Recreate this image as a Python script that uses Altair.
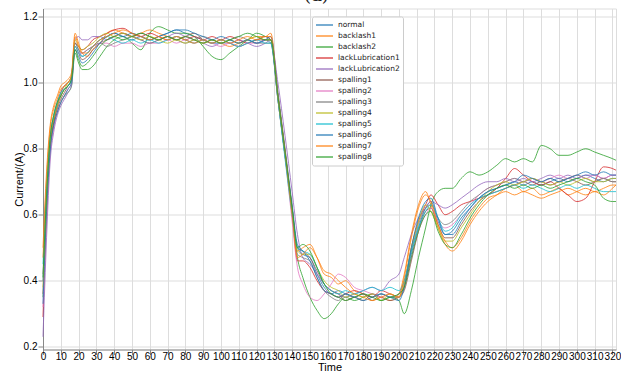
import altair as alt
import pandas as pd

time = [0, 2, 4, 6, 8, 10, 12, 14, 16, 18, 20, 22, 25, 28, 32, 36, 40, 45, 50, 55,
        60, 65, 70, 75, 80, 85, 90, 95, 100, 105, 110, 115, 120, 125, 128, 132, 136, 140, 143, 146,
        150, 154, 158, 162, 166, 170, 175, 180, 185, 190, 195, 200, 203, 207, 211, 215, 218, 222, 226, 230,
        235, 240, 245, 250, 255, 260, 265, 270, 275, 280, 285, 290, 295, 300, 305, 310, 315, 320, 322]

series_names = ["normal", "backlash1", "backlash2", "lackLubrication1", "lackLubrication2",
                "spalling1", "spalling2", "spalling3", "spalling4", "spalling5",
                "spalling6", "spalling7", "spalling8"]

colors = ["#1f77b4", "#ff7f0e", "#2ca02c", "#d62728", "#9467bd", "#8c564b", "#e377c2",
          "#7f7f7f", "#bcbd22", "#17becf", "#1f77b4", "#ff7f0e", "#2ca02c"]

normal = [0.40, 0.66, 0.82, 0.89, 0.93, 0.96, 0.98, 0.99, 1.01, 1.12, 1.10, 1.08, 1.09, 1.11, 1.13, 1.14, 1.15, 1.14, 1.13, 1.14,
          1.13, 1.14, 1.15, 1.16, 1.15, 1.14, 1.13, 1.12, 1.12, 1.13, 1.12, 1.13, 1.12, 1.13, 1.12, 0.95, 0.78, 0.62, 0.50, 0.48,
          0.47, 0.42, 0.38, 0.36, 0.37, 0.36, 0.35, 0.36, 0.35, 0.36, 0.35, 0.35, 0.38, 0.48, 0.56, 0.62, 0.64, 0.58, 0.54, 0.55,
          0.59, 0.62, 0.65, 0.67, 0.68, 0.69, 0.70, 0.69, 0.70, 0.69, 0.70, 0.71, 0.70, 0.71, 0.72, 0.71, 0.70, 0.71, 0.71]
backlash1 = [0.50, 0.73, 0.87, 0.93, 0.96, 0.99, 1.00, 1.01, 1.03, 1.15, 1.12, 1.09, 1.08, 1.10, 1.12, 1.15, 1.16, 1.15, 1.14, 1.15,
             1.16, 1.15, 1.14, 1.13, 1.14, 1.13, 1.12, 1.13, 1.12, 1.11, 1.12, 1.13, 1.14, 1.14, 1.15, 0.97, 0.80, 0.62, 0.49, 0.50,
             0.51, 0.47, 0.42, 0.41, 0.39, 0.40, 0.37, 0.36, 0.34, 0.35, 0.34, 0.36, 0.42, 0.54, 0.63, 0.67, 0.63, 0.56, 0.51, 0.49,
             0.52, 0.57, 0.61, 0.64, 0.66, 0.68, 0.69, 0.67, 0.68, 0.66, 0.67, 0.68, 0.66, 0.67, 0.68, 0.67, 0.68, 0.69, 0.69]
backlash2 = [0.35, 0.62, 0.80, 0.87, 0.91, 0.94, 0.96, 0.97, 0.99, 1.09, 1.06, 1.04, 1.04, 1.05, 1.08, 1.11, 1.13, 1.14, 1.12, 1.10,
             1.15, 1.17, 1.16, 1.15, 1.15, 1.14, 1.11, 1.08, 1.07, 1.09, 1.11, 1.13, 1.15, 1.14, 1.13, 0.96, 0.79, 0.61, 0.47, 0.41,
             0.35, 0.31, 0.285, 0.30, 0.33, 0.35, 0.34, 0.35, 0.36, 0.34, 0.35, 0.34, 0.30, 0.37, 0.47, 0.56, 0.63, 0.67, 0.68, 0.68,
             0.71, 0.73, 0.72, 0.73, 0.75, 0.77, 0.76, 0.77, 0.76, 0.81, 0.80, 0.78, 0.78, 0.79, 0.80, 0.79, 0.78, 0.77, 0.765]
lackLubrication1 = [0.29, 0.60, 0.80, 0.88, 0.93, 0.97, 0.99, 1.00, 1.02, 1.12, 1.11, 1.10, 1.11, 1.13, 1.14, 1.15, 1.16, 1.165, 1.15, 1.14,
                    1.15, 1.14, 1.13, 1.14, 1.13, 1.14, 1.13, 1.14, 1.13, 1.14, 1.13, 1.12, 1.13, 1.13, 1.13, 0.96, 0.79, 0.61, 0.46, 0.46,
                    0.44, 0.40, 0.37, 0.36, 0.35, 0.36, 0.37, 0.36, 0.35, 0.37, 0.36, 0.35, 0.39, 0.50, 0.58, 0.63, 0.66, 0.63, 0.60, 0.61,
                    0.63, 0.64, 0.65, 0.66, 0.68, 0.71, 0.74, 0.72, 0.70, 0.69, 0.70, 0.68, 0.66, 0.64, 0.65, 0.70, 0.745, 0.74, 0.735]
lackLubrication2 = [0.23, 0.53, 0.76, 0.85, 0.90, 0.93, 0.95, 0.97, 0.99, 1.13, 1.14, 1.13, 1.13, 1.14, 1.14, 1.13, 1.14, 1.15, 1.14, 1.13,
                    1.12, 1.13, 1.14, 1.15, 1.14, 1.13, 1.12, 1.11, 1.12, 1.12, 1.13, 1.12, 1.11, 1.12, 1.13, 1.00, 0.84, 0.67, 0.54, 0.47,
                    0.45, 0.42, 0.39, 0.37, 0.36, 0.35, 0.36, 0.37, 0.38, 0.37, 0.40, 0.42, 0.47, 0.54, 0.59, 0.62, 0.64, 0.63, 0.62, 0.63,
                    0.65, 0.67, 0.69, 0.70, 0.70, 0.71, 0.70, 0.71, 0.70, 0.71, 0.72, 0.71, 0.72, 0.71, 0.72, 0.72, 0.71, 0.72, 0.72]
spalling1 = [0.36, 0.63, 0.81, 0.88, 0.92, 0.95, 0.97, 0.99, 1.01, 1.11, 1.09, 1.07, 1.08, 1.10, 1.12, 1.13, 1.14, 1.15, 1.14, 1.15,
             1.14, 1.13, 1.14, 1.13, 1.14, 1.15, 1.13, 1.12, 1.13, 1.12, 1.11, 1.12, 1.13, 1.14, 1.13, 0.95, 0.78, 0.61, 0.50, 0.49,
             0.47, 0.43, 0.39, 0.37, 0.36, 0.34, 0.35, 0.34, 0.36, 0.35, 0.34, 0.35, 0.37, 0.46, 0.55, 0.61, 0.62, 0.57, 0.53, 0.53,
             0.57, 0.61, 0.64, 0.66, 0.67, 0.68, 0.69, 0.70, 0.69, 0.70, 0.69, 0.70, 0.71, 0.70, 0.69, 0.70, 0.71, 0.70, 0.70]
spalling2 = [0.32, 0.59, 0.78, 0.86, 0.91, 0.94, 0.96, 0.98, 1.00, 1.10, 1.09, 1.09, 1.10, 1.11, 1.12, 1.12, 1.11, 1.12, 1.12, 1.11,
             1.12, 1.12, 1.13, 1.12, 1.13, 1.12, 1.13, 1.12, 1.11, 1.12, 1.11, 1.12, 1.12, 1.13, 1.14, 0.96, 0.78, 0.58, 0.44, 0.39,
             0.35, 0.34, 0.36, 0.39, 0.42, 0.41, 0.38, 0.37, 0.36, 0.35, 0.36, 0.35, 0.38, 0.47, 0.55, 0.60, 0.62, 0.58, 0.56, 0.57,
             0.60, 0.63, 0.66, 0.68, 0.69, 0.70, 0.71, 0.70, 0.71, 0.70, 0.71, 0.72, 0.71, 0.72, 0.71, 0.72, 0.71, 0.72, 0.72]
spalling3 = [0.42, 0.67, 0.83, 0.90, 0.94, 0.97, 0.99, 1.00, 1.02, 1.12, 1.10, 1.09, 1.10, 1.11, 1.12, 1.11, 1.12, 1.13, 1.14, 1.13,
             1.12, 1.13, 1.14, 1.13, 1.12, 1.13, 1.14, 1.13, 1.12, 1.13, 1.14, 1.13, 1.12, 1.12, 1.12, 0.95, 0.78, 0.61, 0.48, 0.47,
             0.46, 0.41, 0.37, 0.35, 0.34, 0.36, 0.35, 0.36, 0.34, 0.36, 0.35, 0.36, 0.40, 0.49, 0.57, 0.62, 0.63, 0.59, 0.57, 0.58,
             0.61, 0.64, 0.66, 0.68, 0.69, 0.70, 0.71, 0.70, 0.71, 0.70, 0.71, 0.70, 0.71, 0.72, 0.71, 0.70, 0.71, 0.70, 0.70]
spalling4 = [0.38, 0.64, 0.82, 0.89, 0.93, 0.96, 0.98, 1.00, 1.02, 1.13, 1.11, 1.10, 1.11, 1.12, 1.14, 1.15, 1.14, 1.15, 1.14, 1.13,
             1.14, 1.13, 1.12, 1.13, 1.12, 1.13, 1.12, 1.13, 1.12, 1.13, 1.12, 1.13, 1.14, 1.13, 1.13, 0.96, 0.79, 0.62, 0.49, 0.48,
             0.48, 0.44, 0.40, 0.38, 0.37, 0.35, 0.36, 0.35, 0.36, 0.34, 0.36, 0.35, 0.39, 0.50, 0.58, 0.63, 0.61, 0.56, 0.52, 0.52,
             0.56, 0.60, 0.64, 0.67, 0.69, 0.70, 0.69, 0.70, 0.71, 0.70, 0.69, 0.70, 0.69, 0.70, 0.71, 0.70, 0.70, 0.71, 0.71]
spalling5 = [0.45, 0.69, 0.84, 0.90, 0.94, 0.97, 0.98, 0.99, 1.01, 1.11, 1.09, 1.08, 1.09, 1.11, 1.13, 1.14, 1.13, 1.12, 1.13, 1.12,
             1.13, 1.12, 1.13, 1.14, 1.13, 1.12, 1.13, 1.12, 1.13, 1.12, 1.11, 1.12, 1.13, 1.12, 1.12, 0.95, 0.77, 0.60, 0.50, 0.49,
             0.48, 0.44, 0.39, 0.37, 0.36, 0.37, 0.36, 0.37, 0.38, 0.37, 0.38, 0.37, 0.40, 0.49, 0.56, 0.61, 0.63, 0.59, 0.55, 0.56,
             0.60, 0.63, 0.65, 0.66, 0.67, 0.68, 0.69, 0.68, 0.69, 0.68, 0.67, 0.68, 0.69, 0.68, 0.69, 0.68, 0.67, 0.67, 0.67]
spalling6 = [0.33, 0.61, 0.79, 0.87, 0.91, 0.94, 0.96, 0.98, 1.00, 1.10, 1.08, 1.06, 1.07, 1.09, 1.12, 1.14, 1.15, 1.14, 1.15, 1.14,
             1.13, 1.14, 1.15, 1.16, 1.16, 1.15, 1.14, 1.13, 1.14, 1.13, 1.12, 1.13, 1.12, 1.13, 1.14, 0.97, 0.80, 0.63, 0.51, 0.49,
             0.46, 0.41, 0.37, 0.36, 0.35, 0.36, 0.35, 0.34, 0.35, 0.36, 0.35, 0.34, 0.38, 0.50, 0.59, 0.64, 0.65, 0.59, 0.54, 0.54,
             0.58, 0.62, 0.65, 0.67, 0.68, 0.69, 0.70, 0.72, 0.71, 0.70, 0.71, 0.70, 0.71, 0.72, 0.73, 0.72, 0.73, 0.72, 0.72]
spalling7 = [0.47, 0.71, 0.86, 0.92, 0.95, 0.98, 0.99, 1.00, 1.02, 1.14, 1.11, 1.09, 1.09, 1.11, 1.13, 1.14, 1.15, 1.16, 1.15, 1.14,
             1.13, 1.14, 1.13, 1.14, 1.13, 1.12, 1.13, 1.12, 1.13, 1.12, 1.13, 1.14, 1.13, 1.14, 1.14, 0.96, 0.79, 0.60, 0.47, 0.48,
             0.50, 0.47, 0.43, 0.42, 0.40, 0.38, 0.36, 0.35, 0.34, 0.35, 0.36, 0.35, 0.41, 0.53, 0.62, 0.66, 0.64, 0.57, 0.52, 0.50,
             0.53, 0.58, 0.62, 0.65, 0.66, 0.67, 0.66, 0.67, 0.66, 0.65, 0.66, 0.67, 0.68, 0.67, 0.66, 0.67, 0.66, 0.68, 0.69]
spalling8 = [0.41, 0.66, 0.83, 0.90, 0.94, 0.96, 0.98, 0.99, 1.01, 1.10, 1.07, 1.05, 1.06, 1.08, 1.11, 1.13, 1.14, 1.13, 1.14, 1.15,
             1.14, 1.13, 1.14, 1.13, 1.14, 1.13, 1.12, 1.13, 1.12, 1.13, 1.14, 1.15, 1.14, 1.13, 1.13, 0.96, 0.79, 0.62, 0.50, 0.51,
             0.49, 0.44, 0.39, 0.36, 0.35, 0.34, 0.35, 0.36, 0.35, 0.34, 0.35, 0.36, 0.38, 0.47, 0.55, 0.60, 0.61, 0.55, 0.51, 0.50,
             0.54, 0.59, 0.63, 0.66, 0.68, 0.69, 0.68, 0.69, 0.68, 0.69, 0.68, 0.69, 0.70, 0.71, 0.70, 0.69, 0.65, 0.64, 0.64]

all_series = [normal, backlash1, backlash2, lackLubrication1, lackLubrication2, spalling1,
              spalling2, spalling3, spalling4, spalling5, spalling6, spalling7, spalling8]

rows = []
for name, vals in zip(series_names, all_series):
    for t, v in zip(time, vals):
        rows.append({"Time": t, "Current": v, "series": name})
df = pd.DataFrame(rows)

x_ticks = list(range(0, 321, 10))
y_ticks = [0.2, 0.4, 0.6, 0.8, 1.0, 1.2]
FONT = "DejaVu Sans"

chart = alt.Chart(df).mark_line(strokeWidth=1.0, opacity=0.8, interpolate="monotone").encode(
    x=alt.X("Time:Q", scale=alt.Scale(domain=[0, 322], nice=False, zero=False),
            axis=alt.Axis(values=x_ticks, title="Time", labelFlush=False,
                          labelPadding=-3, titleFontWeight="normal",
                          titleY=18, titleBaseline="middle")),
    y=alt.Y("Current:Q", scale=alt.Scale(domain=[0.1915, 1.225], nice=False, zero=False),
            axis=alt.Axis(values=y_ticks, format=".1f", title="Current/(A)",
                          labelPadding=1, titleFontWeight="normal",
                          titleX=-24, titleY=170.5, titleBaseline="middle", titleAngle=270,
                          titleAlign="center")),
    color=alt.Color("series:N", sort=series_names,
                    scale=alt.Scale(domain=series_names, range=colors),
                    legend=alt.Legend(title=None, orient="none", legendX=269, legendY=8,
                                      strokeColor="#cccccc", fillColor="white", padding=3,
                                      cornerRadius=2, symbolType="stroke", symbolSize=289,
                                      symbolStrokeWidth=1.5, labelFontSize=7.5, labelFont=FONT,
                                      labelColor="#222", clipHeight=11, rowPadding=0,
                                      labelOffset=4)),
    detail="series:N",
).properties(
    width=573, height=341,
    padding={"left": 43, "top": 8.5, "right": 5, "bottom": 23.5},
    autosize=alt.AutoSizeParams(type="none"),
    title=alt.TitleParams("(a)", fontSize=18, font="DejaVu Serif", fontWeight="normal",
                          offset=4, dx=-13, color="#222"),
).configure_view(
    stroke="#999999", strokeWidth=1
).configure_axis(
    domain=False, grid=False, tickColor="#555", tickSize=2, labelFont=FONT, labelFontSize=7,
    labelColor="#444", titleFont=FONT, titleFontSize=10.5, titleFontWeight="normal", titleColor="#222"
).configure(background="white")

chart.save("out.html", embed_options={"renderer": "svg", "actions": False})
